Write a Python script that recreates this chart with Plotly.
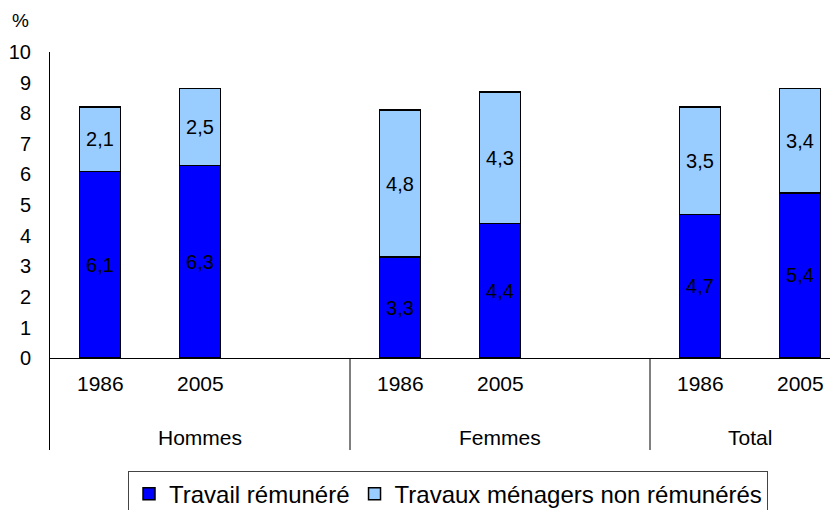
import plotly.graph_objects as go

# ---- data ----
groups = ["Hommes", "Femmes", "Total"]
years = ["1986", "2005"]
paid = [6.1, 6.3, 3.3, 4.4, 4.7, 5.4]          # Travail rémunéré
unpaid = [2.1, 2.5, 4.8, 4.3, 3.5, 3.4]        # Travaux ménagers non rémunérés
series_names = ["Travail rémunéré", "Travaux ménagers non rémunérés"]
y_ticks = list(range(0, 11))

# slot positions: each group has 3 slots (2 years + 1 empty gap)
slots_per_group = 3
xpos = []
for gi, g in enumerate(groups):
    for yi, _ in enumerate(years):
        xpos.append(gi * slots_per_group + yi + 1)

def fmt(v):
    return f"{v:.1f}".replace(".", ",")

FONT = "Liberation Sans, Arial, sans-serif"
BLUE = "#0000FF"
LIGHT = "#99CCFF"

fig = go.Figure()
for vals, name, col in [(paid, series_names[0], BLUE), (unpaid, series_names[1], LIGHT)]:
    fig.add_trace(go.Bar(
        x=xpos, y=vals, name=name,
        width=0.41,
        marker=dict(color=col, line=dict(color="black", width=1.5)),
        text=[fmt(v) for v in vals],
        textposition="inside", insidetextanchor="middle", textangle=0,
        textfont=dict(size=20, color="black", family=FONT),
        hoverinfo="skip",
    ))

annotations = []
for gi, g in enumerate(groups):
    for yi, yr in enumerate(years):
        annotations.append(dict(x=gi * slots_per_group + yi + 1, y=-0.82, xref="x", yref="y",
                                text=yr, showarrow=False, font=dict(size=21, color="black", family=FONT),
                                xanchor="center", yanchor="middle"))
for gi, g in enumerate(groups):
    first = gi * slots_per_group + 1
    last = first + slots_per_group - 1
    center = (first + last) / 2 if gi < len(groups) - 1 else (first + first + 1) / 2
    annotations.append(dict(x=center, y=-2.58, xref="x", yref="y",
                            text=g, showarrow=False, font=dict(size=21, color="black", family=FONT),
                            xanchor="center", yanchor="middle"))
annotations.append(dict(x=-0.038, y=1.08, xref="paper", yref="paper", text="%", showarrow=False,
                        font=dict(size=19, color="black", family=FONT), xanchor="center", yanchor="middle"))

shapes = []
for gi in range(1, len(groups)):
    xs = gi * slots_per_group + 0.5
    shapes.append(dict(type="line", xref="x", yref="y", x0=xs, x1=xs, y0=0, y1=-3,
                       line=dict(color="black", width=1)))

# page body has an 8px margin, so the figure is 8px smaller and shifted
fig.update_layout(
    width=830, height=502,
    margin=dict(l=42, r=0, t=44, b=60, autoexpand=False),
    barmode="stack",
    plot_bgcolor="white", paper_bgcolor="white",
    font=dict(family=FONT, color="black"),
    uniformtext=dict(minsize=20, mode="show"),
    xaxis=dict(range=[0.5, 8.38], showgrid=False, zeroline=False, showline=False,
               showticklabels=False, fixedrange=True),
    yaxis=dict(range=[-3, 10], tickvals=y_ticks, ticktext=[str(t) for t in y_ticks],
               showgrid=False, zeroline=True, zerolinecolor="black", zerolinewidth=1,
               showline=True, linecolor="black", linewidth=1, ticks="",
               tickfont=dict(size=20, color="black", family=FONT), ticklabelstandoff=14),
    legend=dict(orientation="h", x=0.099, y=-0.052, xanchor="left", yanchor="top",
                bordercolor="#444", borderwidth=1, font=dict(size=24, color="black", family=FONT),
                itemwidth=30, traceorder="normal", tracegroupgap=0),
    annotations=annotations,
    shapes=shapes,
    showlegend=True,
)

fig.write_html("out.html")
